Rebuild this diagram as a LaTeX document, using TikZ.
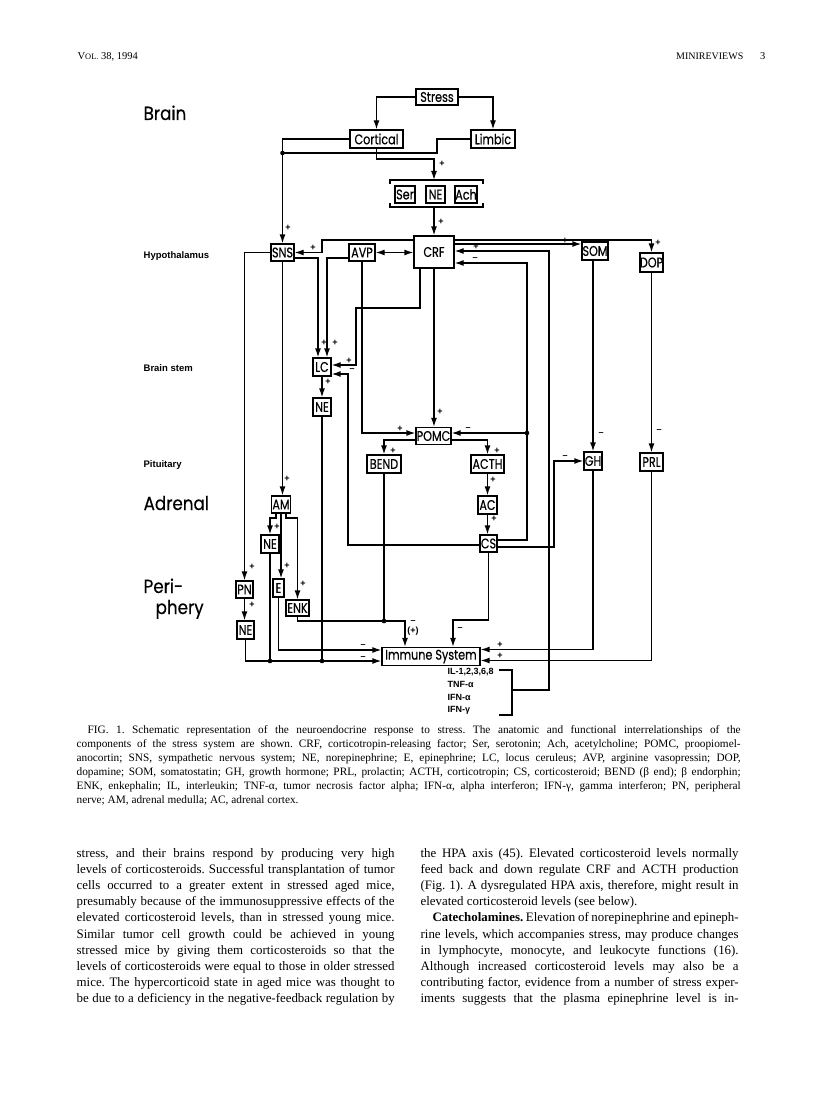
\documentclass[tikz,border=0pt]{standalone}
\usepackage{fontspec}
\setmainfont{Liberation Serif}
\newfontfamily\dfont[FakeStretch=0.8,FakeBold=0.35]{Poppins}
\newfontfamily\gfont[FakeStretch=0.88,FakeBold=0.35]{Poppins}
\newfontfamily\lfont{Liberation Sans}
\usetikzlibrary{arrows.meta}
\newcommand{\jline}[5]{\node[#1] (#2) at #3 {\frenchspacing\makebox[#4][s]{#5}};}
\begin{document}
\begin{tikzpicture}[x=1pt,y=-1pt,line width=1.3pt,
  bx/.style={draw, inner sep=0pt, font=\dfont\fontsize{14}{14}\selectfont},
  ar/.style={-{Latex[length=9pt,width=6pt]}},
  arb/.style={{Latex[length=9pt,width=6pt]}-{Latex[length=9pt,width=6pt]}},
  sg/.style={inner sep=0pt, font=\lfont\bfseries\fontsize{9}{9}\selectfont},
  big/.style={anchor=base west, inner sep=0pt, font=\gfont\fontsize{19}{20}\selectfont},
  sml/.style={anchor=base west, inner sep=0pt, font=\lfont\bfseries\fontsize{9.5}{10}\selectfont},
  body/.style={anchor=base west, inner sep=0pt, font=\fontsize{12.9}{15}\selectfont},
  capt/.style={anchor=base west, inner sep=0pt, font=\fontsize{11.3}{13}\selectfont},
  hd/.style={inner sep=0pt, font=\fontsize{10.5}{12}\selectfont}]
\useasboundingbox (0,0) rectangle (816,1118);
\fill[white] (0,0) rectangle (816,1118);

% header
\node[hd,anchor=base west] (hdl) at (77,60) {V{\fontsize{8.4}{10}\selectfont OL.} 38, 1994};
\node[hd,anchor=base east,font=\fontsize{10}{12}\selectfont] (hdr) at (744,60) {MINIREVIEWS};
\node[hd,anchor=base east] (hdp) at (766,60) {3};

% region labels
\node[big] (lbrain) at (143,120) {Brain};
\node[sml] (lhyp) at (143,258) {Hypothalamus};
\node[sml] (lstem) at (143,371) {Brain stem};
\node[sml] (lpit) at (143,467) {Pituitary};
\node[big] (ladr) at (143,510) {Adrenal};
\node[big] (lper1) at (143,593) {Peri-};
\node[big] (lper2) at (155,614) {phery};

% boxes
\node[bx,minimum width=42pt,minimum height=16pt] (stress) at (437,97) {Stress};
\node[bx,minimum width=53pt,minimum height=18pt] (cort) at (376.5,139) {Cortical};
\node[bx,minimum width=44pt,minimum height=18pt] (limb) at (493,139) {Limbic};
\node[bx,minimum width=20pt,minimum height=17pt] (ser) at (405,194.5) {Ser};
\node[bx,minimum width=19pt,minimum height=17pt] (negrp) at (435.5,194.5) {NE};
\node[bx,minimum width=22pt,minimum height=17pt] (ach) at (466,194.5) {Ach};
\node[bx,minimum width=40pt,minimum height=32pt] (crf) at (434,252) {CRF};
\node[bx,minimum width=23pt,minimum height=17pt] (sns) at (282.5,252.5) {SNS};
\node[bx,minimum width=26pt,minimum height=17pt] (avp) at (362,252.5) {AVP};
\node[bx,minimum width=26pt,minimum height=18pt] (som) at (595,251) {SOM};
\node[bx,minimum width=23pt,minimum height=19pt] (dop) at (651.5,262.5) {DOP};
\node[bx,minimum width=18pt,minimum height=18pt] (lc) at (322,367) {LC};
\node[bx,minimum width=18pt,minimum height=18pt] (nebs) at (322,407) {NE};
\node[bx,minimum width=35pt,minimum height=17pt] (pomc) at (433.5,436) {POMC};
\node[bx,minimum width=34pt,minimum height=18pt] (bend) at (384,464) {BEND};
\node[bx,minimum width=33pt,minimum height=18pt] (acth) at (487.5,464) {ACTH};
\node[bx,minimum width=18pt,minimum height=18pt] (gh) at (593,461) {GH};
\node[bx,minimum width=23pt,minimum height=18pt] (prl) at (651.5,462) {PRL};
\node[bx,minimum width=19pt,minimum height=17pt] (am) at (281,504.5) {AM};
\node[bx,minimum width=19pt,minimum height=18pt] (ac) at (487.5,505) {AC};
\node[bx,minimum width=18pt,minimum height=18pt] (nead) at (270,544) {NE};
\node[bx,minimum width=17pt,minimum height=17pt] (cs) at (488.5,543.5) {CS};
\node[bx,minimum width=17pt,minimum height=17pt] (pn) at (244.5,589.5) {PN};
\node[bx,minimum width=11pt,minimum height=18pt] (e) at (278.5,588) {E};
\node[bx,minimum width=23pt,minimum height=16pt] (enk) at (297.5,608) {ENK};
\node[bx,minimum width=17pt,minimum height=18pt] (nep) at (245.5,630) {NE};
\node[bx,minimum width=98pt,minimum height=18pt] (imm) at (431,656.5) {Immune System};
\node[anchor=north west,align=left,inner sep=0pt,font=\lfont\bfseries\fontsize{9}{12.6}\selectfont] (cyto) at (447,668) {IL-1,2,3,6,8\\TNF-α\\IFN-α\\IFN-γ};

% group bracket
\coordinate (grptop) at (434,180);
\coordinate (grpbot) at (434,207);
\draw (390,184) -- (390,180) -- (483,180) -- (483,184);
\draw (390,203) -- (390,207) -- (483,207) -- (483,203);

% connectors
\draw[ar] (stress.west) -| (cort.north);
\draw[ar] (stress.east) -| (limb.north);
\draw[ar] (cort.west) -| (sns.north);
\draw (limb.west) -- (437,139) -- (437,153) -- (282.5,153);
\fill (282.5,153) circle (2.3pt);
\draw[ar] (cort.south) |- (434,159) -- (grptop);
\draw[ar] (grpbot) -- (crf.north);
\draw[ar] (crf.west |- 0,240) -- (322,240) -- (322,252.5) -- (sns.east);
\draw[ar] (crf.east |- 0,240) -| (dop.north);
\draw[ar] (crf.east |- 0,244) -- (som.west |- 0,244);
\draw[arb] (avp.east) -- (crf.west |- avp.east);
\draw[ar] (sns.west) -| (pn.north);
\draw[ar] (sns.east |- 0,258) -| (318,0 |- lc.north);
\draw[ar] (avp.west |- 0,258) -| (327,0 |- lc.north);
\draw[ar] (sns.south) -- (sns.south |- am.north);
\draw[ar] ([xshift=-14pt]crf.south) -- (420,308) -- (356,308) -- (356,365) -- (lc.east |- 0,365);
\draw[ar] (avp.south) |- (pomc.west |- 0,433);
\draw[ar] (crf.south) -- (crf.south |- pomc.north);
\draw[ar] (pomc.west |- 0,440) -| (bend.north);
\draw[ar] (pomc.east |- 0,440) -| (acth.north);
\draw[ar] (acth.south) -- (ac.north);
\draw[ar] (ac.south) -- (ac.south |- cs.north);
\draw[ar] (cs.west |- 0,545) -- (348,545) -- (348,374) -- (lc.east |- 0,374);
\draw[ar] (cs.east |- 0,540) -- (527,540) -- (527,263) -- (crf.east |- 0,263);
\draw[ar] (527,433) -- (pomc.east |- 0,433);
\fill (527,433) circle (2.3pt);
\draw[ar] (cs.east |- 0,547) -- (554,547) -- (554,461) -- (gh.west);
\draw[ar] (som.south -| gh.north) -- (gh.north);
\draw[ar] (dop.south) -- (dop.south |- prl.north);
\draw[ar] (gh.south) |- (imm.east |- 0,649.5);
\draw[ar] (prl.south) |- (imm.east |- 0,660.5);
\draw (499,670) -- (512,670) -- (512,715) -- (499,715);
\draw[ar] (512,690) -- (549,690) -- (549,251) -- (crf.east |- 0,251);
\draw (bend.south) -- (384,621);
\draw[ar] (enk.south) |- (405,621) -- (405,0 |- imm.north);
\fill (384,621) circle (2.3pt);
\draw[ar] (cs.south) |- (453,620) -- (453,0 |- imm.north);
\draw[ar] (e.south) |- (imm.west |- 0,650);
\draw[ar] (nep.south) |- (imm.west |- 0,661);
\draw (nead.south) -- (nead.south |- 0,661);
\fill (270,661) circle (2.3pt);
\draw (nebs.south) -- (nebs.south |- 0,661);
\fill (322,661) circle (2.3pt);
\draw[ar] (lc.south) -- (nebs.north);
\draw[ar] (276,0 |- am.south) -- (276,518) -- (270,518) -- (nead.north);
\draw[ar] (am.south) -- (am.south |- e.north);
\draw[ar] (286,0 |- am.south) -- (286,518) -- (297.5,518) -- (enk.north);
\draw[ar] (pn.south) -- (pn.south |- nep.north);

% signs
\node[sg] (s1) at (442,164) {+};
\node[sg] (s2) at (441,222) {+};
\node[sg] (s3) at (288,228) {+};
\node[sg] (s4) at (313,248) {+};
\node[sg] (s5) at (565,241) {+};
\node[sg] (s6) at (658,243) {+};
\node[sg] (s7) at (324,343) {+};
\node[sg] (s8) at (335,343) {+};
\node[sg] (s9) at (349,361) {+};
\node[sg] (s10) at (352,370) {–};
\node[sg] (s11) at (328,382) {+};
\node[sg] (s12) at (440,412) {+};
\node[sg] (s13) at (400,429) {+};
\node[sg] (s14) at (468,429) {–};
\node[sg] (s15) at (393,451) {+};
\node[sg] (s16) at (497,451) {+};
\node[sg] (s17) at (601,434) {–};
\node[sg] (s18) at (659,431) {–};
\node[sg] (s19) at (565,457) {–};
\node[sg] (s20) at (493,480) {+};
\node[sg] (s21) at (494,519) {+};
\node[sg] (s22) at (287,479) {+};
\node[sg] (s23) at (277,527) {+};
\node[sg] (s24) at (287,566) {+};
\node[sg] (s25) at (303,584) {+};
\node[sg] (s26) at (252,567) {+};
\node[sg] (s27) at (252,605) {+};
\node[sg] (s28) at (413,622) {–};
\node[sg] (s29) at (413,631) {(+)};
\node[sg] (s30) at (460,629) {–};
\node[sg] (s31) at (363,646) {–};
\node[sg] (s32) at (363,658) {–};
\node[sg] (s33) at (500,645) {+};
\node[sg] (s34) at (500,656) {+};
\node[sg] (s35) at (476,247) {+};
\node[sg] (s36) at (475,259) {–};

% caption
\jline{capt}{c1}{(87,733)}{653pt}{FIG. 1. Schematic representation of the neuroendocrine response to stress. The anatomic and functional interrelationships of the}
\jline{capt}{c2}{(76,747)}{664pt}{components of the stress system are shown. CRF, corticotropin-releasing factor; Ser, serotonin; Ach, acetylcholine; POMC, proopiomel-}
\jline{capt}{c3}{(76,761)}{664pt}{anocortin; SNS, sympathetic nervous system; NE, norepinephrine; E, epinephrine; LC, locus ceruleus; AVP, arginine vasopressin; DOP,}
\jline{capt}{c4}{(76,775)}{664pt}{dopamine; SOM, somatostatin; GH, growth hormone; PRL, prolactin; ACTH, corticotropin; CS, corticosteroid; BEND (β end); β endorphin;}
\jline{capt}{c5}{(76,789)}{664pt}{ENK, enkephalin; IL, interleukin; TNF-α, tumor necrosis factor alpha; IFN-α, alpha interferon; IFN-γ, gamma interferon; PN, peripheral}
\node[capt] (c6) at (76,803) {\frenchspacing nerve; AM, adrenal medulla; AC, adrenal cortex.};

% body left
\jline{body}{b1}{(76,857)}{318pt}{stress, and their brains respond by producing very high}
\jline{body}{b2}{(76,873.2)}{318pt}{levels of corticosteroids. Successful transplantation of tumor}
\jline{body}{b3}{(76,889.4)}{318pt}{cells occurred to a greater extent in stressed aged mice,}
\jline{body}{b4}{(76,905.6)}{318pt}{presumably because of the immunosuppressive effects of the}
\jline{body}{b5}{(76,921.8)}{318pt}{elevated corticosteroid levels, than in stressed young mice.}
\jline{body}{b6}{(76,938)}{318pt}{Similar tumor cell growth could be achieved in young}
\jline{body}{b7}{(76,954.2)}{318pt}{stressed mice by giving them corticosteroids so that the}
\jline{body}{b8}{(76,970.4)}{318pt}{levels of corticosteroids were equal to those in older stressed}
\jline{body}{b9}{(76,986.6)}{318pt}{mice. The hypercorticoid state in aged mice was thought to}
\jline{body}{b10}{(76,1002.8)}{318pt}{be due to a deficiency in the negative-feedback regulation by}
% body right
\jline{body}{r1}{(420,857)}{318pt}{the HPA axis (45). Elevated corticosteroid levels normally}
\jline{body}{r2}{(420,873.2)}{318pt}{feed back and down regulate CRF and ACTH production}
\jline{body}{r3}{(420,889.4)}{318pt}{(Fig. 1). A dysregulated HPA axis, therefore, might result in}
\node[body] (r4) at (420,905.6) {\frenchspacing elevated corticosteroid levels (see below).};
\jline{body}{r5}{(432,921.8)}{306pt}{\textbf{Catecholamines.} Elevation of norepinephrine and epineph-}
\jline{body}{r6}{(420,938)}{318pt}{rine levels, which accompanies stress, may produce changes}
\jline{body}{r7}{(420,954.2)}{318pt}{in lymphocyte, monocyte, and leukocyte functions (16).}
\jline{body}{r8}{(420,970.4)}{318pt}{Although increased corticosteroid levels may also be a}
\jline{body}{r9}{(420,986.6)}{318pt}{contributing factor, evidence from a number of stress exper-}
\jline{body}{r10}{(420,1002.8)}{318pt}{iments suggests that the plasma epinephrine level is in-}
\end{tikzpicture}
\end{document}
